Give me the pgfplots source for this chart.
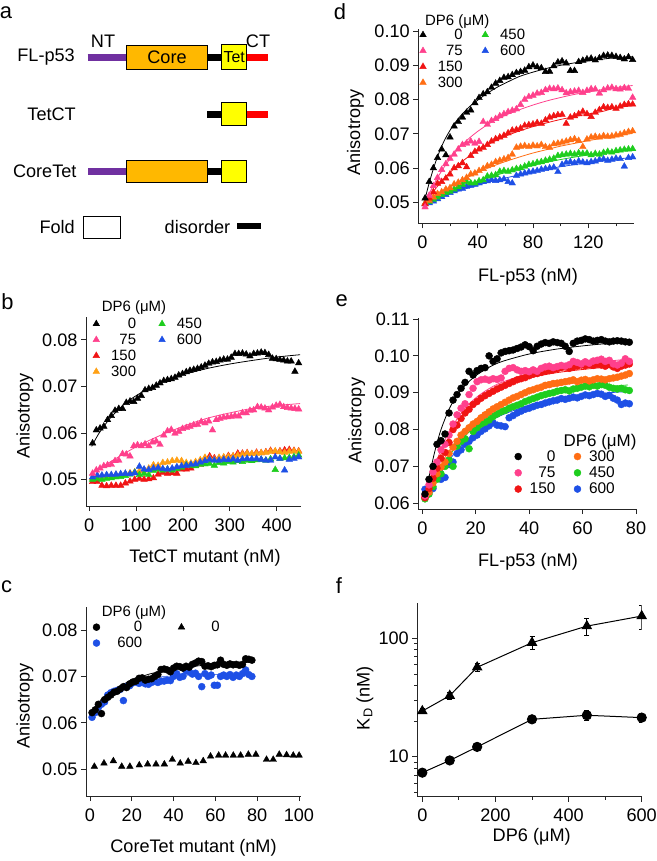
\documentclass[border=0pt]{standalone}
\usepackage{pgfplots}
\pgfplotsset{compat=1.18}
\usepackage{fontspec}
\setmainfont{Liberation Sans}
\definecolor{pk}{RGB}{255,64,140}
\definecolor{rd}{RGB}{240,20,20}
\definecolor{orb}{RGB}{255,160,20}
\definecolor{ord}{RGB}{255,110,20}
\definecolor{gr}{RGB}{30,205,30}
\definecolor{bl}{RGB}{30,80,230}
\definecolor{purp}{RGB}{112,48,160}
\definecolor{coreor}{RGB}{255,184,0}
\definecolor{tety}{RGB}{255,255,0}
\newcommand\tk{\fontsize{18.2}{21}\selectfont}
\newcommand\lgf{\fontsize{15}{17}\selectfont}
\newcommand\pl{\fontsize{22}{26}\selectfont}
\pgfplotsset{
  panel/.style={scale only axis, anchor=south west, axis lines=left,
    axis line style={-, line width=0.8bp, black!85},
    tick align=outside, major tick length=5bp, minor tick length=3bp,
    tick style={line width=0.8bp, black!85},
    tick label style={font=\tk},
    scaled ticks=false, xticklabel shift=4bp, yticklabel shift=0bp,
    /pgf/number format/assume math mode=true,
    legend style={draw=none, fill=none, inner sep=0pt, anchor=north west, font=\lgf},
  },
  tri/.style={only marks, mark=triangle*, mark size=3.8bp},
  cir/.style={only marks, mark=*, mark size=3.5bp},
  fit/.style={no marks, line width=0.8bp, smooth},
}
\begin{document}
\begin{tikzpicture}
\useasboundingbox (0,0) rectangle (657bp,-861bp);
% ---------- panel letters
\node[font=\pl, inner sep=0] at (6bp,-12.5bp) {a};
\node[font=\pl, inner sep=0] at (7.5bp,-301.7bp) {b};
\node[font=\pl, inner sep=0] at (6.7bp,-586.7bp) {c};
\node[font=\pl, inner sep=0] at (340bp,-11.7bp) {d};
\node[font=\pl, inner sep=0] at (341.7bp,-300.8bp) {e};
\node[font=\pl, inner sep=0] at (339bp,-586bp) {f};
% ---------- panel a diagram
\begin{scope}[font=\tk]
\node[inner sep=0] at (103bp,-41bp) {NT};
\node[inner sep=0] at (258bp,-41bp) {CT};
\node[inner sep=0, anchor=east] at (75bp,-57.3bp) {FL-p53};
\node[inner sep=0, anchor=east] at (76bp,-114.3bp) {TetCT};
\node[inner sep=0, anchor=east] at (76.7bp,-171.7bp) {CoreTet};
% row 1
\draw[purp, line width=7bp] (87.7bp,-57.3bp) -- (126bp,-57.3bp);
\draw[black, line width=7bp] (207.7bp,-57.3bp) -- (221.7bp,-57.3bp);
\draw[red, line width=7bp] (246.7bp,-57.3bp) -- (267.7bp,-57.3bp);
\draw[fill=coreor, line width=0.8bp] (126bp,-45.7bp) rectangle (207.7bp,-69bp);
\draw[fill=tety, line width=0.8bp] (221.7bp,-44.3bp) rectangle (246.7bp,-69bp);
\node[inner sep=0] at (167bp,-57.3bp) {Core};
\node[inner sep=0, font=\fontsize{16}{18}\selectfont] at (234.2bp,-57.3bp) {Tet};
% row 2
\draw[black, line width=7bp] (207bp,-114bp) -- (221.7bp,-114bp);
\draw[red, line width=7bp] (246bp,-114bp) -- (267.7bp,-114bp);
\draw[fill=tety, line width=0.8bp] (221.7bp,-102.7bp) rectangle (246bp,-125.3bp);
% row 3
\draw[purp, line width=7bp] (88bp,-171.7bp) -- (126bp,-171.7bp);
\draw[black, line width=7bp] (207.7bp,-171.7bp) -- (221.7bp,-171.7bp);
\draw[fill=coreor, line width=0.8bp] (126bp,-160bp) rectangle (207.7bp,-182.7bp);
\draw[fill=tety, line width=0.8bp] (221.7bp,-160bp) rectangle (246.7bp,-182.7bp);
% key
\node[inner sep=0, anchor=east] at (75bp,-227bp) {Fold};
\draw[fill=white, line width=0.8bp] (83bp,-216bp) rectangle (120bp,-238bp);
\node[inner sep=0] at (197.5bp,-227bp) {disorder};
\draw[black, line width=6bp] (237bp,-226bp) -- (261bp,-226bp);
\end{scope}
% ---------- panel b
\begin{axis}[panel, at={(86bp,-506bp)}, width=215bp, height=189bp,
  xmin=-7, xmax=452, ymin=0.0443, ymax=0.0849,
  xtick={0,100,200,300,400}, ytick={0.05,0.06,0.07,0.08},
  yticklabels={0.05,0.06,0.07,0.08},
  legend columns=2,
  legend style={at={(0.0316,1.0069)}, /tikz/every even column/.append style={column sep=15.5bp}}]
\addplot[tri, rd, forget plot] coordinates {(7,0.0495)(17,0.0495)(27,0.0487)(37,0.0486)(47,0.0487)(57,0.0487)(67,0.0487)(77,0.0492)(87,0.0496)(97,0.0500)(107,0.0502)(117,0.0500)(127,0.0501)(137,0.0503)(147,0.0511)(157,0.0515)(167,0.0513)(177,0.0514)(187,0.0513)(197,0.0522)(207,0.0522)(217,0.0524)(227,0.0530)(237,0.0532)(247,0.0545)(257,0.0550)(267,0.0546)(277,0.0544)(287,0.0547)(297,0.0551)(307,0.0550)(317,0.0556)(327,0.0556)(337,0.0557)(347,0.0555)(357,0.0558)(367,0.0557)(377,0.0559)(387,0.0562)(397,0.0560)(407,0.0561)(417,0.0563)(427,0.0564)(437,0.0562)(447,0.0561)};
\addplot[tri, orb, forget plot] coordinates {(7,0.0503)(17,0.0506)(27,0.0507)(37,0.0508)(47,0.0508)(57,0.0510)(67,0.0510)(77,0.0512)(87,0.0514)(97,0.0516)(107,0.0518)(117,0.0520)(127,0.0524)(137,0.0531)(147,0.0530)(157,0.0536)(167,0.0537)(177,0.0540)(187,0.0541)(197,0.0540)(207,0.0536)(217,0.0535)(227,0.0538)(237,0.0542)(247,0.0547)(257,0.0545)(267,0.0543)(277,0.0547)(287,0.0548)(297,0.0549)(307,0.0550)(317,0.0552)(327,0.0554)(337,0.0556)(347,0.0555)(357,0.0556)(367,0.0557)(377,0.0558)(387,0.0560)(397,0.0561)(407,0.0559)(417,0.0558)(427,0.0560)(437,0.0561)(447,0.0560)};
\addplot[tri, gr, forget plot] coordinates {(7,0.0500)(17,0.0502)(27,0.0500)(37,0.0502)(47,0.0503)(57,0.0505)(67,0.0506)(77,0.0508)(87,0.0511)(97,0.0515)(107,0.0510)(117,0.0513)(127,0.0510)(137,0.0519)(147,0.0522)(157,0.0520)(167,0.0522)(177,0.0520)(187,0.0523)(197,0.0526)(207,0.0531)(217,0.0530)(227,0.0529)(237,0.0532)(247,0.0533)(257,0.0534)(267,0.0530)(277,0.0536)(287,0.0535)(297,0.0538)(307,0.0537)(317,0.0540)(327,0.0538)(337,0.0541)(347,0.0540)(357,0.0542)(367,0.0543)(377,0.0541)(387,0.0544)(397,0.0521)(407,0.0545)(417,0.0546)(427,0.0547)(437,0.0549)(447,0.0552)};
\addplot[tri, bl, forget plot] coordinates {(7,0.0505)(17,0.0509)(27,0.0509)(37,0.0510)(47,0.0510)(57,0.0511)(67,0.0512)(77,0.0513)(87,0.0512)(97,0.0514)(107,0.0528)(117,0.0522)(127,0.0521)(137,0.0524)(147,0.0525)(157,0.0523)(167,0.0522)(177,0.0524)(187,0.0527)(197,0.0529)(207,0.0530)(217,0.0532)(227,0.0533)(237,0.0537)(247,0.0540)(257,0.0543)(267,0.0541)(277,0.0541)(287,0.0543)(297,0.0542)(307,0.0544)(317,0.0541)(327,0.0544)(337,0.0545)(347,0.0544)(357,0.0545)(367,0.0543)(377,0.0541)(387,0.0541)(397,0.0548)(407,0.0545)(417,0.0520)(427,0.0543)(437,0.0545)(447,0.0548)};
\addplot[tri, pk, forget plot] coordinates {(7,0.0513)(15,0.0520)(23,0.0524)(31,0.0529)(39,0.0531)(47,0.0532)(55,0.0540)(63,0.0541)(71,0.0555)(79,0.0554)(87,0.0550)(95,0.0572)(103,0.0574)(111,0.0572)(119,0.0576)(127,0.0572)(135,0.0580)(143,0.0582)(151,0.0575)(159,0.0595)(167,0.0604)(175,0.0607)(183,0.0599)(191,0.0603)(199,0.0609)(207,0.0611)(215,0.0614)(223,0.0617)(231,0.0618)(239,0.0624)(247,0.0621)(255,0.0625)(263,0.0606)(271,0.0628)(279,0.0631)(287,0.0633)(295,0.0634)(303,0.0635)(311,0.0637)(319,0.0636)(327,0.0643)(335,0.0643)(343,0.0648)(351,0.0649)(359,0.0656)(367,0.0655)(375,0.0653)(383,0.0649)(391,0.0655)(399,0.0659)(407,0.0661)(415,0.0656)(423,0.0654)(431,0.0653)(439,0.0652)(447,0.0651)};
\addplot[tri, black, forget plot] coordinates {(7,0.0578)(15,0.0606)(23,0.0610)(31,0.0614)(39,0.0628)(47,0.0637)(55,0.0648)(63,0.0652)(71,0.0652)(79,0.0665)(87,0.0668)(95,0.0667)(103,0.0674)(111,0.0680)(119,0.0692)(127,0.0695)(135,0.0697)(143,0.0702)(151,0.0707)(159,0.0712)(167,0.0714)(175,0.0716)(183,0.0719)(191,0.0724)(199,0.0727)(207,0.0731)(215,0.0734)(223,0.0736)(231,0.0738)(239,0.0741)(247,0.0745)(255,0.0749)(263,0.0752)(271,0.0753)(279,0.0756)(287,0.0758)(295,0.0758)(303,0.0762)(311,0.0770)(319,0.0770)(327,0.0771)(335,0.0769)(343,0.0765)(351,0.0770)(359,0.0771)(367,0.0773)(375,0.0772)(383,0.0768)(391,0.0760)(399,0.0759)(407,0.0757)(415,0.0756)(423,0.0754)(431,0.0754)(439,0.0732)(447,0.0750)};
\addplot[fit, pk, forget plot] coordinates {(5,0.0513)(50,0.0541)(100,0.0570)(150,0.0594)(200,0.0614)(250,0.0631)(300,0.0643)(350,0.0653)(400,0.0659)(450,0.0663)};
\addplot[fit, black, forget plot] coordinates {(5,0.0571)(20,0.0598)(40,0.0626)(60,0.0648)(80,0.0666)(100,0.0680)(130,0.0697)(160,0.0711)(200,0.0725)(250,0.0738)(300,0.0748)(350,0.0756)(400,0.0763)(450,0.0768)};
\addlegendimage{tri, black}\addlegendentry{\makebox[34.5bp][r]{0}}
\addlegendimage{tri, gr}\addlegendentry{\makebox[34.5bp][r]{450}}
\addlegendimage{tri, pk}\addlegendentry{\makebox[34.5bp][r]{75}}
\addlegendimage{tri, bl}\addlegendentry{\makebox[34.5bp][r]{600}}
\addlegendimage{tri, rd}\addlegendentry{\makebox[34.5bp][r]{150}}
\addlegendimage{empty legend}\addlegendentry{}
\addlegendimage{tri, orb}\addlegendentry{\makebox[34.5bp][r]{300}}
\end{axis}
\node[font=\lgf, inner sep=0, anchor=west] at (101.7bp,-307.7bp) {DP6 (μM)};
\node[font=\tk, rotate=90] at (25bp,-416bp) {Anisotropy};
\node[font=\tk] at (205bp,-558bp) {TetCT mutant (nM)};
% ---------- panel c
\begin{axis}[panel, at={(86bp,-796bp)}, width=215bp, height=189bp,
  xmin=-1.9, xmax=101, ymin=0.04425, ymax=0.08495,
  xtick={0,20,40,60,80,100}, ytick={0.05,0.06,0.07,0.08},
  yticklabels={0.05,0.06,0.07,0.08},
  legend columns=2,
  legend style={at={(0.0316,0.9365)}, /tikz/every even column/.append style={column sep=34bp}}]
\addplot[cir, bl, forget plot] coordinates {(1.0,0.0612)(2.5,0.0622)(4.0,0.0633)(5.5,0.0640)(7.0,0.0645)(8.5,0.0660)(10.0,0.0665)(11.5,0.0668)(13.0,0.0670)(14.5,0.0672)(16.0,0.0648)(17.5,0.0678)(19.0,0.0680)(20.5,0.0686)(22.0,0.0688)(23.5,0.0685)(25.0,0.0688)(26.5,0.0684)(28.0,0.0683)(29.5,0.0687)(31.0,0.0690)(32.5,0.0687)(34.0,0.0690)(35.5,0.0690)(37.0,0.0692)(38.5,0.0691)(40.0,0.0700)(41.5,0.0706)(43.0,0.0698)(44.5,0.0700)(46.0,0.0712)(47.5,0.0710)(49.0,0.0705)(50.5,0.0707)(52.0,0.0700)(53.5,0.0678)(55.0,0.0706)(56.5,0.0700)(58.0,0.0703)(59.5,0.0681)(61.0,0.0681)(62.5,0.0700)(64.0,0.0703)(65.5,0.0700)(67.0,0.0704)(68.5,0.0698)(70.0,0.0703)(71.5,0.0700)(73.0,0.0706)(74.5,0.0714)(76.0,0.0704)(77.5,0.0700)};
\addplot[cir, black, forget plot] coordinates {(1.0,0.0622)(2.5,0.0628)(4.0,0.0640)(5.5,0.0620)(7.0,0.0650)(8.5,0.0655)(10.0,0.0660)(11.5,0.0666)(13.0,0.0668)(14.5,0.0673)(16.0,0.0678)(17.5,0.0676)(19.0,0.0684)(20.5,0.0688)(22.0,0.0690)(23.5,0.0696)(25.0,0.0697)(26.5,0.0692)(28.0,0.0694)(29.5,0.0695)(31.0,0.0700)(32.5,0.0704)(34.0,0.0715)(35.5,0.0716)(37.0,0.0714)(38.5,0.0710)(40.0,0.0718)(41.5,0.0722)(43.0,0.0721)(44.5,0.0718)(46.0,0.0722)(47.5,0.0720)(49.0,0.0726)(50.5,0.0729)(52.0,0.0733)(53.5,0.0732)(55.0,0.0722)(56.5,0.0723)(58.0,0.0721)(59.5,0.0724)(61.0,0.0725)(62.5,0.0735)(64.0,0.0726)(65.5,0.0724)(67.0,0.0727)(68.5,0.0725)(70.0,0.0726)(71.5,0.0724)(73.0,0.0726)(74.5,0.0738)(76.0,0.0737)(77.5,0.0735)};
\addplot[fit, bl!70, forget plot] coordinates {(1,0.0615)(3,0.0630)(6,0.0648)(10,0.0665)(15,0.0679)(20,0.0688)(25,0.0694)(30,0.0698)(40,0.0701)(50,0.0703)(60,0.0704)(78,0.0704)};
\addplot[fit, black, forget plot] coordinates {(1,0.0625)(3,0.0638)(6,0.0653)(10,0.0668)(15,0.0681)(20,0.0692)(25,0.0700)(30,0.0707)(40,0.0716)(50,0.0722)(60,0.0726)(70,0.0729)(78,0.0731)};
\addplot[tri, black, forget plot] coordinates {(2.1,0.0506)(6.7,0.0513)(11.2,0.0518)(15.2,0.0506)(19.1,0.0506)(23.6,0.0509)(27.6,0.0511)(31.6,0.0511)(35.6,0.0511)(39.4,0.0521)(43.2,0.0513)(47,0.0517)(50.7,0.0514)(54.2,0.0518)(57.7,0.0528)(61.6,0.0530)(64.9,0.0530)(68.6,0.0530)(72.1,0.0530)(75.8,0.0532)(79.4,0.0532)(84.5,0.0521)(87.7,0.0521)(90.6,0.0532)(94.1,0.0531)(97.3,0.0530)(100.1,0.0530)};
\addlegendimage{cir, black}\addlegendentry{\makebox[40.2bp][r]{0}}
\addlegendimage{tri, black}\addlegendentry{\makebox[32.9bp][r]{0}}
\addlegendimage{cir, bl}\addlegendentry{\makebox[40.2bp][r]{600}}
\end{axis}
\node[font=\lgf, inner sep=0, anchor=west] at (101.7bp,-613bp) {DP6 (μM)};
\node[font=\tk, rotate=90] at (25bp,-706bp) {Anisotropy};
\node[font=\tk] at (193.5bp,-848bp) {CoreTet mutant (nM)};
% ---------- panel d
\begin{axis}[panel, at={(418.3bp,-223.3bp)}, width=215.7bp, height=194bp,
  xmin=-2.9, xmax=153, ymin=0.04388, ymax=0.1005,
  xtick={0,40,80,120}, minor xtick={20,60,100,140},
  ytick={0.05,0.06,0.07,0.08,0.09,0.10},
  yticklabels={0.05,0.06,0.07,0.08,0.09,0.10},
  legend columns=2,
  legend style={at={(0.0056,1.0134)}, /tikz/every even column/.append style={column sep=12bp}}]
\addplot[tri, bl, forget plot] coordinates {(2,0.0495)(5,0.0498)(8,0.0503)(11,0.0510)(14,0.0516)(17,0.0522)(20,0.0528)(23,0.0533)(26,0.0538)(29,0.0540)(32,0.0546)(35,0.0549)(38,0.0552)(41,0.0556)(44,0.0560)(47,0.0562)(50,0.0566)(53,0.0563)(56,0.0565)(59,0.0568)(62,0.0560)(65,0.0556)(68,0.0578)(71,0.0582)(74,0.0585)(77,0.0588)(80,0.0590)(83,0.0592)(86,0.0596)(89,0.0598)(92,0.0600)(95,0.0602)(98,0.0589)(101,0.0610)(104,0.0616)(107,0.0618)(110,0.0615)(113,0.0620)(116,0.0617)(119,0.0615)(122,0.0618)(125,0.0620)(128,0.0624)(131,0.0626)(134,0.0622)(137,0.0625)(140,0.0628)(143,0.0627)(146,0.0605)(149,0.0630)(152,0.0632)};
\addplot[tri, gr, forget plot] coordinates {(2,0.0497)(5,0.0502)(8,0.0508)(11,0.0515)(14,0.0522)(17,0.0528)(20,0.0532)(23,0.0538)(26,0.0545)(29,0.0552)(32,0.0560)(35,0.0556)(38,0.0556)(41,0.0562)(44,0.0565)(47,0.0576)(50,0.0578)(53,0.0580)(56,0.0590)(59,0.0592)(62,0.0590)(65,0.0594)(68,0.0598)(71,0.0600)(74,0.0605)(77,0.0610)(80,0.0612)(83,0.0616)(86,0.0618)(89,0.0622)(92,0.0625)(95,0.0628)(98,0.0636)(101,0.0638)(104,0.0640)(107,0.0642)(110,0.0640)(113,0.0644)(116,0.0642)(119,0.0643)(122,0.0638)(125,0.0642)(128,0.0640)(131,0.0645)(134,0.0648)(137,0.0646)(140,0.0650)(143,0.0652)(146,0.0654)(149,0.0655)(152,0.0656)};
\addplot[tri, ord, forget plot] coordinates {(2,0.0497)(5,0.0505)(8,0.0515)(11,0.0525)(14,0.0530)(17,0.0538)(20,0.0542)(23,0.0553)(26,0.0558)(29,0.0565)(32,0.0572)(35,0.0582)(38,0.0585)(41,0.0592)(44,0.0598)(47,0.0606)(50,0.0610)(53,0.0618)(56,0.0622)(59,0.0626)(62,0.0630)(65,0.0640)(68,0.0660)(71,0.0663)(74,0.0665)(77,0.0662)(80,0.0666)(83,0.0664)(86,0.0668)(89,0.0662)(92,0.0660)(95,0.0670)(98,0.0672)(101,0.0675)(104,0.0678)(107,0.0682)(110,0.0685)(113,0.0680)(116,0.0662)(119,0.0684)(122,0.0690)(125,0.0692)(128,0.0690)(131,0.0694)(134,0.0692)(137,0.0693)(140,0.0696)(143,0.0698)(146,0.0702)(149,0.0706)(152,0.0708)};
\addplot[tri, rd, forget plot] coordinates {(2,0.0495)(5,0.0512)(8,0.0530)(11,0.0555)(14,0.0560)(17,0.0570)(20,0.0582)(23,0.0600)(26,0.0606)(29,0.0615)(32,0.0603)(35,0.0636)(38,0.0648)(41,0.0655)(44,0.0660)(47,0.0668)(50,0.0678)(53,0.0685)(56,0.0690)(59,0.0695)(62,0.0702)(65,0.0710)(68,0.0712)(71,0.0716)(74,0.0724)(77,0.0726)(80,0.0728)(83,0.0732)(86,0.0730)(89,0.0740)(92,0.0748)(95,0.0752)(98,0.0755)(101,0.0756)(104,0.0730)(107,0.0748)(110,0.0752)(113,0.0758)(116,0.0765)(119,0.0758)(122,0.0750)(125,0.0762)(128,0.0770)(131,0.0778)(134,0.0776)(137,0.0778)(140,0.0774)(143,0.0780)(146,0.0785)(149,0.0787)(152,0.0786)};
\addplot[tri, pk, forget plot] coordinates {(2,0.0486)(5,0.0520)(8,0.0548)(11,0.0572)(14,0.0595)(17,0.0612)(20,0.0628)(23,0.0640)(26,0.0655)(29,0.0668)(32,0.0672)(35,0.0678)(38,0.0672)(41,0.0677)(44,0.0735)(47,0.0727)(50,0.0738)(53,0.0744)(56,0.0752)(59,0.0758)(62,0.0764)(65,0.0768)(68,0.0772)(71,0.0785)(74,0.0800)(77,0.0808)(80,0.0812)(83,0.0818)(86,0.0820)(89,0.0828)(92,0.0832)(95,0.0831)(98,0.0833)(101,0.0828)(104,0.0819)(107,0.0822)(110,0.0824)(113,0.0826)(116,0.0820)(119,0.0826)(122,0.0831)(125,0.0830)(128,0.0818)(131,0.0828)(134,0.0833)(137,0.0835)(140,0.0831)(143,0.0830)(146,0.0834)(149,0.0832)(152,0.0806)};
\addplot[tri, black, forget plot] coordinates {(2,0.0512)(5,0.0560)(8,0.0600)(11,0.0630)(14,0.0655)(17,0.0638)(20,0.0690)(23,0.0722)(26,0.0735)(29,0.0748)(32,0.0762)(35,0.0769)(38,0.0790)(41,0.0805)(44,0.0816)(47,0.0822)(50,0.0835)(53,0.0847)(56,0.0855)(59,0.0864)(62,0.0866)(65,0.0872)(68,0.0878)(71,0.0881)(74,0.0885)(77,0.0895)(80,0.0900)(83,0.0895)(86,0.0892)(89,0.0881)(92,0.0882)(95,0.0898)(98,0.0909)(101,0.0912)(104,0.0906)(107,0.0884)(110,0.0884)(113,0.0910)(116,0.0914)(119,0.0918)(122,0.0920)(125,0.0915)(128,0.0921)(131,0.0928)(134,0.0929)(137,0.0928)(140,0.0925)(143,0.0922)(146,0.0918)(149,0.0924)(152,0.0916)};
\addplot[fit, bl, forget plot] coordinates {(2,0.0497)(10,0.0510)(20,0.0525)(30,0.0538)(40,0.0550)(50,0.0561)(60,0.0571)(70,0.0580)(80,0.0589)(90,0.0597)(100,0.0604)(110,0.0610)(120,0.0616)(130,0.0621)(140,0.0626)(152,0.0631)};
\addplot[fit, gr, forget plot] coordinates {(2,0.0497)(10,0.0513)(20,0.0531)(30,0.0547)(40,0.0562)(50,0.0575)(60,0.0587)(70,0.0598)(80,0.0608)(90,0.0617)(100,0.0625)(110,0.0632)(120,0.0638)(130,0.0643)(140,0.0648)(152,0.0653)};
\addplot[fit, ord, forget plot] coordinates {(2,0.0497)(10,0.0520)(20,0.0545)(30,0.0567)(40,0.0587)(50,0.0604)(60,0.0619)(70,0.0632)(80,0.0644)(90,0.0654)(100,0.0664)(110,0.0672)(120,0.0680)(130,0.0687)(140,0.0694)(152,0.0701)};
\addplot[fit, rd, forget plot] coordinates {(2,0.0497)(5,0.0515)(10,0.0542)(15,0.0566)(20,0.0587)(25,0.0606)(30,0.0623)(35,0.0638)(40,0.0651)(45,0.0663)(50,0.0674)(60,0.0693)(70,0.0708)(80,0.0721)(90,0.0732)(100,0.0742)(110,0.0750)(120,0.0758)(130,0.0765)(140,0.0776)(152,0.0782)};
\addplot[fit, pk, forget plot] coordinates {(2,0.0497)(5,0.0525)(10,0.0565)(15,0.0598)(20,0.0627)(25,0.0652)(30,0.0673)(35,0.0691)(40,0.0707)(45,0.0721)(50,0.0734)(60,0.0754)(70,0.0770)(80,0.0784)(90,0.0796)(100,0.0806)(110,0.0815)(120,0.0822)(130,0.0829)(140,0.0835)(152,0.0841)};
\addplot[fit, black, forget plot] coordinates {(2,0.0510)(4,0.0542)(6,0.0571)(8,0.0598)(10,0.0622)(13,0.0654)(16,0.0681)(20,0.0710)(24,0.0734)(28,0.0754)(32,0.0771)(36,0.0786)(40,0.0798)(45,0.0813)(50,0.0826)(55,0.0838)(60,0.0848)(70,0.0867)(80,0.0880)(90,0.0891)(100,0.0900)(110,0.0907)(120,0.0913)(130,0.0918)(140,0.0922)(152,0.0925)};
\addlegendimage{tri, black}\addlegendentry{\makebox[34.5bp][r]{0}}
\addlegendimage{tri, gr}\addlegendentry{\makebox[34.5bp][r]{450}}
\addlegendimage{tri, pk}\addlegendentry{\makebox[34.5bp][r]{75}}
\addlegendimage{tri, bl}\addlegendentry{\makebox[34.5bp][r]{600}}
\addlegendimage{tri, rd}\addlegendentry{\makebox[34.5bp][r]{150}}
\addlegendimage{empty legend}\addlegendentry{}
\addlegendimage{tri, ord}\addlegendentry{\makebox[34.5bp][r]{300}}
\end{axis}
\node[font=\lgf, inner sep=0, anchor=west] at (425bp,-21.7bp) {DP6 (μM)};
\node[font=\tk, rotate=90] at (355.5bp,-132.5bp) {Anisotropy};
\node[font=\tk] at (528bp,-277bp) {FL-p53 (nM)};
% ---------- panel e
\begin{axis}[panel, at={(418.3bp,-509bp)}, width=217.7bp, height=191.3bp,
  xmin=-1.5, xmax=80, ymin=0.05845, ymax=0.11035,
  xtick={0,20,40,60,80},
  ytick={0.06,0.07,0.08,0.09,0.10,0.11},
  yticklabels={0.06,0.07,0.08,0.09,0.10,0.11},
  legend columns=2,
  legend style={at={(0.4419,0.3178)}, font=\fontsize{15.5}{17}\selectfont, /tikz/every even column/.append style={column sep=16.5bp}}]
\addplot[cir, bl, forget plot] coordinates {(1.0,0.0638)(2.5,0.0630)(4.0,0.0640)(5.5,0.0668)(7.0,0.0665)(8.5,0.0670)(10.0,0.0705)(11.5,0.0712)(13.0,0.0735)(14.5,0.0745)(16.0,0.0760)(17.5,0.0768)(19.0,0.0778)(20.5,0.0785)(22.0,0.0795)(23.5,0.0802)(25.0,0.0810)(26.5,0.0818)(28.0,0.0812)(29.5,0.0810)(31.0,0.0808)(32.5,0.0832)(34.0,0.0838)(35.5,0.0845)(37.0,0.0850)(38.5,0.0855)(40.0,0.0858)(41.5,0.0862)(43.0,0.0866)(44.5,0.0868)(46.0,0.0872)(47.5,0.0875)(49.0,0.0878)(50.5,0.0880)(52.0,0.0884)(53.5,0.0882)(55.0,0.0885)(56.5,0.0888)(58.0,0.0886)(59.5,0.0890)(61.0,0.0894)(62.5,0.0892)(64.0,0.0895)(65.5,0.0898)(67.0,0.0896)(68.5,0.0890)(70.0,0.0893)(71.5,0.0885)(73.0,0.0880)(74.5,0.0868)(76.0,0.0872)(77.5,0.0870)};
\addplot[cir, gr, forget plot] coordinates {(1.0,0.0612)(2.5,0.0625)(4.0,0.0645)(5.5,0.0665)(7.0,0.0680)(8.5,0.0700)(10.0,0.0718)(11.5,0.0700)(13.0,0.0755)(14.5,0.0768)(16.0,0.0775)(17.5,0.0748)(19.0,0.0795)(20.5,0.0805)(22.0,0.0815)(23.5,0.0820)(25.0,0.0826)(26.5,0.0835)(28.0,0.0842)(29.5,0.0848)(31.0,0.0852)(32.5,0.0858)(34.0,0.0862)(35.5,0.0866)(37.0,0.0870)(38.5,0.0876)(40.0,0.0880)(41.5,0.0884)(43.0,0.0888)(44.5,0.0892)(46.0,0.0895)(47.5,0.0898)(49.0,0.0900)(50.5,0.0904)(52.0,0.0906)(53.5,0.0908)(55.0,0.0905)(56.5,0.0910)(58.0,0.0912)(59.5,0.0915)(61.0,0.0918)(62.5,0.0916)(64.0,0.0920)(65.5,0.0918)(67.0,0.0922)(68.5,0.0920)(70.0,0.0915)(71.5,0.0912)(73.0,0.0910)(74.5,0.0912)(76.0,0.0908)(77.5,0.0906)};
\addplot[cir, ord, forget plot] coordinates {(1.0,0.0618)(2.5,0.0630)(4.0,0.0655)(5.5,0.0680)(7.0,0.0698)(8.5,0.0712)(10.0,0.0735)(11.5,0.0752)(13.0,0.0768)(14.5,0.0785)(16.0,0.0795)(17.5,0.0805)(19.0,0.0815)(20.5,0.0822)(22.0,0.0832)(23.5,0.0840)(25.0,0.0848)(26.5,0.0856)(28.0,0.0862)(29.5,0.0868)(31.0,0.0874)(32.5,0.0880)(34.0,0.0886)(35.5,0.0890)(37.0,0.0895)(38.5,0.0900)(40.0,0.0905)(41.5,0.0908)(43.0,0.0912)(44.5,0.0915)(46.0,0.0920)(47.5,0.0922)(49.0,0.0925)(50.5,0.0926)(52.0,0.0928)(53.5,0.0930)(55.0,0.0932)(56.5,0.0935)(58.0,0.0930)(59.5,0.0934)(61.0,0.0936)(62.5,0.0932)(64.0,0.0935)(65.5,0.0938)(67.0,0.0937)(68.5,0.0935)(70.0,0.0938)(71.5,0.0940)(73.0,0.0942)(74.5,0.0945)(76.0,0.0948)(77.5,0.0952)};
\addplot[cir, rd, forget plot] coordinates {(1.0,0.0615)(2.5,0.0640)(4.0,0.0668)(5.5,0.0695)(7.0,0.0722)(8.5,0.0738)(10.0,0.0765)(11.5,0.0800)(13.0,0.0812)(14.5,0.0830)(16.0,0.0845)(17.5,0.0855)(19.0,0.0868)(20.5,0.0876)(22.0,0.0885)(23.5,0.0892)(25.0,0.0898)(26.5,0.0904)(28.0,0.0910)(29.5,0.0915)(31.0,0.0920)(32.5,0.0925)(34.0,0.0930)(35.5,0.0935)(37.0,0.0938)(38.5,0.0941)(40.0,0.0946)(41.5,0.0950)(43.0,0.0952)(44.5,0.0955)(46.0,0.0958)(47.5,0.0960)(49.0,0.0962)(50.5,0.0965)(52.0,0.0968)(53.5,0.0970)(55.0,0.0966)(56.5,0.0970)(58.0,0.0972)(59.5,0.0975)(61.0,0.0973)(62.5,0.0976)(64.0,0.0974)(65.5,0.0977)(67.0,0.0975)(68.5,0.0972)(70.0,0.0976)(71.5,0.0970)(73.0,0.0966)(74.5,0.0972)(76.0,0.0975)(77.5,0.0978)};
\addplot[cir, pk, forget plot] coordinates {(1.0,0.0620)(2.5,0.0650)(4.0,0.0685)(5.5,0.0712)(7.0,0.0745)(8.5,0.0760)(10.0,0.0785)(11.5,0.0815)(13.0,0.0840)(14.5,0.0858)(16.0,0.0870)(17.5,0.0895)(19.0,0.0912)(20.5,0.0930)(22.0,0.0935)(23.5,0.0937)(25.0,0.0934)(26.5,0.0938)(28.0,0.0936)(29.5,0.0940)(31.0,0.0958)(32.5,0.0966)(34.0,0.0968)(35.5,0.0962)(37.0,0.0958)(38.5,0.0960)(40.0,0.0957)(41.5,0.0962)(43.0,0.0958)(44.5,0.0966)(46.0,0.0970)(47.5,0.0972)(49.0,0.0968)(50.5,0.0971)(52.0,0.0974)(53.5,0.0972)(55.0,0.0976)(56.5,0.0985)(58.0,0.0982)(59.5,0.0978)(61.0,0.0984)(62.5,0.0980)(64.0,0.0986)(65.5,0.0988)(67.0,0.0991)(68.5,0.0985)(70.0,0.0988)(71.5,0.0978)(73.0,0.0975)(74.5,0.0980)(76.0,0.0992)(77.5,0.0985)};
\addplot[cir, black, forget plot] coordinates {(1.0,0.0625)(2.5,0.0665)(4.0,0.0700)(5.5,0.0760)(7.0,0.0770)(8.5,0.0788)(10.0,0.0845)(11.5,0.0880)(13.0,0.0895)(14.5,0.0912)(16.0,0.0928)(17.5,0.0958)(19.0,0.0948)(20.5,0.0960)(22.0,0.0966)(23.5,0.0968)(25.0,0.1000)(26.5,0.0985)(28.0,0.0992)(29.5,0.1008)(31.0,0.1012)(32.5,0.1014)(34.0,0.1016)(35.5,0.1020)(37.0,0.1024)(38.5,0.1030)(40.0,0.1025)(41.5,0.1014)(43.0,0.1026)(44.5,0.1032)(46.0,0.1036)(47.5,0.1034)(49.0,0.1038)(50.5,0.1036)(52.0,0.1034)(53.5,0.1026)(55.0,0.1012)(56.5,0.1034)(58.0,0.1040)(59.5,0.1042)(61.0,0.1046)(62.5,0.1044)(64.0,0.1040)(65.5,0.1042)(67.0,0.1044)(68.5,0.1040)(70.0,0.1038)(71.5,0.1040)(73.0,0.1041)(74.5,0.1040)(76.0,0.1038)(77.5,0.1037)};
\addplot[fit, bl, forget plot] coordinates {(1,0.0605)(3,0.0635)(5,0.0660)(8,0.0695)(10,0.0717)(15,0.0760)(20,0.0795)(25,0.0821)(30,0.0840)(40,0.0866)(50,0.0882)(60,0.0893)(70,0.0900)(77,0.0903)};
\addplot[fit, gr, forget plot] coordinates {(1,0.0605)(3,0.0638)(5,0.0667)(8,0.0705)(10,0.0728)(15,0.0775)(20,0.0810)(25,0.0838)(30,0.0857)(40,0.0883)(50,0.0899)(60,0.0910)(70,0.0917)(77,0.0921)};
\addplot[fit, ord, forget plot] coordinates {(1,0.0605)(3,0.0642)(5,0.0675)(8,0.0717)(10,0.0742)(15,0.0792)(20,0.0828)(25,0.0855)(30,0.0875)(40,0.0902)(50,0.0918)(60,0.0929)(70,0.0937)(77,0.0941)};
\addplot[fit, rd, forget plot] coordinates {(1,0.0605)(3,0.0655)(5,0.0697)(8,0.0750)(10,0.0780)(15,0.0838)(20,0.0875)(25,0.0900)(30,0.0918)(40,0.0940)(50,0.0954)(60,0.0963)(70,0.0970)(77,0.0974)};
\addplot[fit, pk, forget plot] coordinates {(1,0.0605)(3,0.0662)(5,0.0708)(8,0.0763)(10,0.0793)(15,0.0850)(20,0.0886)(25,0.0911)(30,0.0929)(40,0.0952)(50,0.0967)(60,0.0978)(70,0.0986)(77,0.0991)};
\addplot[fit, black, forget plot] coordinates {(1,0.0610)(2,0.0650)(3,0.0688)(5,0.0750)(7,0.0800)(10,0.0855)(13,0.0893)(16,0.0920)(20,0.0946)(25,0.0969)(30,0.0985)(40,0.1005)(50,0.1018)(60,0.1027)(70,0.1034)(77,0.1038)};
\addlegendimage{cir, black}\addlegendentry{\makebox[31.8bp][r]{0}}
\addlegendimage{cir, ord}\addlegendentry{\makebox[31.8bp][r]{300}}
\addlegendimage{cir, pk}\addlegendentry{\makebox[31.8bp][r]{75}}
\addlegendimage{cir, gr}\addlegendentry{\makebox[31.8bp][r]{450}}
\addlegendimage{cir, rd}\addlegendentry{\makebox[31.8bp][r]{150}}
\addlegendimage{cir, bl}\addlegendentry{\makebox[31.8bp][r]{600}}
\end{axis}
\node[font=\fontsize{17}{19}\selectfont, inner sep=0, anchor=east] at (636.7bp,-442bp) {DP6 (μM)};
\node[font=\tk, rotate=90] at (356.7bp,-420.7bp) {Anisotropy};
\node[font=\tk] at (528bp,-562bp) {FL-p53 (nM)};
% ---------- panel f
\begin{axis}[panel, at={(417.3bp,-796.7bp)}, width=224.4bp, height=193.4bp,
  xmin=-13.7, xmax=600, ymin=4.59, ymax=198, ymode=log,
  xtick={0,200,400,600}, minor xtick={100,300,500},
  ytick={10,100}, yticklabels={10,100},
  minor ytick={5,6,7,8,9,20,30,40,50,60,70,80,90}]
\addplot[black, line width=1bp, mark=triangle*, mark size=5.2bp,
  error bars/.cd, y dir=both, y explicit, error bar style={line width=0.8bp}, error mark options={rotate=90, mark size=2.5bp, line width=0.8bp}]
  coordinates {(0,24.3) +- (0,1.2) (75,32.8) +- (0,2.1) (150,57) +- (0,4.7) (300,92) +- (0,11.5) (450,127) +- (0,20) (600,154.5) +- (0,35)};
\addplot[black, line width=1bp, mark=*, mark size=4.6bp,
  error bars/.cd, y dir=both, y explicit, error bar style={line width=0.8bp}, error mark options={rotate=90, mark size=2.5bp, line width=0.8bp}]
  coordinates {(0,7.33) +- (0,0.3) (75,9.3) +- (0,0.4) (150,12.1) +- (0,0.5) (300,20.7) +- (0,1.2) (450,22.4) +- (0,2.2) (600,21.4) +- (0,2)};
\end{axis}
\node[font=\tk, rotate=90] at (365bp,-698bp) {K\textsubscript{D} (nM)};
\node[font=\tk] at (531.7bp,-837bp) {DP6 (μM)};
\end{tikzpicture}
\end{document}
